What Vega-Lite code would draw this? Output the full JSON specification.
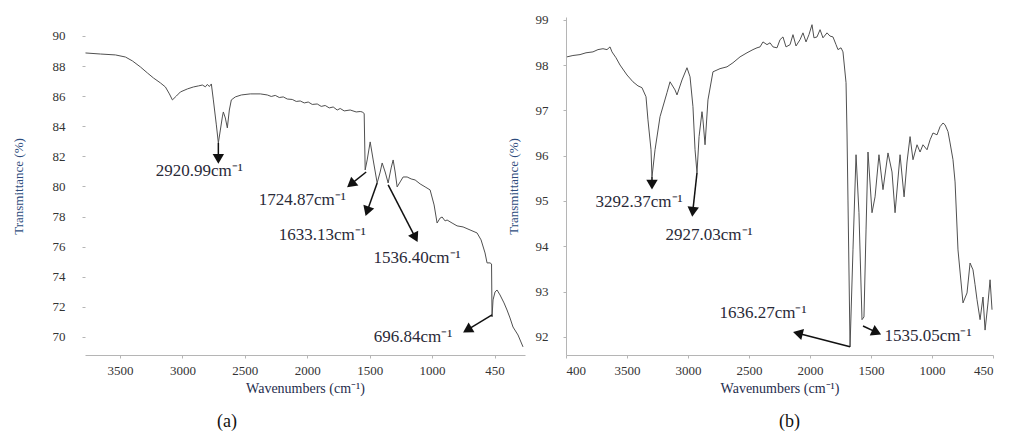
{
  "$schema": "https://vega.github.io/schema/vega-lite/v6.json",
  "background": "white",
  "padding": {"left": 12, "top": 13, "right": 5, "bottom": 5},
  "bounds": "flush",
  "spacing": 41,
  "config": {
    "view": {"stroke": null},
    "font": "Liberation Serif",
    "axis": {"grid": false, "labelFontSize": 13, "labelColor": "#333333", "titleFontWeight": "normal", "domainColor": "#b5b5b5", "tickColor": "#b5b5b5", "tickSize": 3, "labelOverlap": false}
  },
  "datasets": {
    "specA": [
      {"w": 3776, "t": 88.87}, {"w": 3656, "t": 88.80}, {"w": 3536, "t": 88.74}, {"w": 3456, "t": 88.60}, {"w": 3400, "t": 88.34},
      {"w": 3336, "t": 87.94}, {"w": 3280, "t": 87.54}, {"w": 3232, "t": 87.21}, {"w": 3176, "t": 86.88}, {"w": 3136, "t": 86.61},
      {"w": 3104, "t": 86.15}, {"w": 3080, "t": 85.75}, {"w": 3048, "t": 86.01}, {"w": 3016, "t": 86.28}, {"w": 2960, "t": 86.48},
      {"w": 2912, "t": 86.61}, {"w": 2872, "t": 86.68}, {"w": 2840, "t": 86.74}, {"w": 2816, "t": 86.62}, {"w": 2800, "t": 86.78},
      {"w": 2784, "t": 86.64}, {"w": 2768, "t": 86.81}, {"w": 2752, "t": 85.75}, {"w": 2728, "t": 84.09}, {"w": 2712, "t": 82.89},
      {"w": 2696, "t": 83.75}, {"w": 2680, "t": 84.62}, {"w": 2672, "t": 84.95}, {"w": 2656, "t": 84.55}, {"w": 2640, "t": 83.89},
      {"w": 2624, "t": 85.08}, {"w": 2608, "t": 85.75}, {"w": 2576, "t": 85.95}, {"w": 2528, "t": 86.08}, {"w": 2456, "t": 86.15},
      {"w": 2376, "t": 86.15}, {"w": 2320, "t": 86.08}, {"w": 2288, "t": 85.98}, {"w": 2256, "t": 86.05}, {"w": 2224, "t": 85.91},
      {"w": 2192, "t": 85.95}, {"w": 2160, "t": 85.81}, {"w": 2120, "t": 85.78}, {"w": 2088, "t": 85.65}, {"w": 2056, "t": 85.68},
      {"w": 2024, "t": 85.55}, {"w": 1992, "t": 85.61}, {"w": 1960, "t": 85.45}, {"w": 1920, "t": 85.48}, {"w": 1888, "t": 85.32},
      {"w": 1856, "t": 85.38}, {"w": 1824, "t": 85.22}, {"w": 1792, "t": 85.28}, {"w": 1760, "t": 85.08}, {"w": 1736, "t": 85.18},
      {"w": 1704, "t": 85.02}, {"w": 1656, "t": 85.08}, {"w": 1608, "t": 84.95}, {"w": 1576, "t": 84.98}, {"w": 1560, "t": 84.95},
      {"w": 1544, "t": 84.85}, {"w": 1536, "t": 81.10}, {"w": 1520, "t": 81.76}, {"w": 1496, "t": 82.96}, {"w": 1472, "t": 81.76},
      {"w": 1440, "t": 80.23}, {"w": 1416, "t": 80.96}, {"w": 1400, "t": 81.56}, {"w": 1376, "t": 80.96}, {"w": 1352, "t": 80.23},
      {"w": 1328, "t": 81.23}, {"w": 1312, "t": 81.76}, {"w": 1296, "t": 80.96}, {"w": 1280, "t": 79.97}, {"w": 1256, "t": 80.30},
      {"w": 1232, "t": 80.63}, {"w": 1200, "t": 80.63}, {"w": 1168, "t": 80.50}, {"w": 1136, "t": 80.43}, {"w": 1096, "t": 80.17},
      {"w": 1056, "t": 79.97}, {"w": 1016, "t": 79.77}, {"w": 984, "t": 78.77}, {"w": 960, "t": 77.57}, {"w": 936, "t": 77.90},
      {"w": 920, "t": 77.97}, {"w": 896, "t": 77.71}, {"w": 880, "t": 77.77}, {"w": 840, "t": 77.57}, {"w": 800, "t": 77.38},
      {"w": 752, "t": 77.31}, {"w": 696, "t": 77.11}, {"w": 640, "t": 76.91}, {"w": 608, "t": 76.45}, {"w": 576, "t": 75.58},
      {"w": 560, "t": 74.92}, {"w": 536, "t": 74.92}, {"w": 524, "t": 74.85}, {"w": 520, "t": 71.33}, {"w": 512, "t": 72.46},
      {"w": 496, "t": 72.99}, {"w": 480, "t": 73.12}, {"w": 456, "t": 72.79}, {"w": 424, "t": 72.26}, {"w": 400, "t": 71.79},
      {"w": 376, "t": 71.26}, {"w": 352, "t": 70.66}, {"w": 312, "t": 70.13}, {"w": 272, "t": 69.34}
    ],
    "specB": [
      {"w": 3992, "t": 98.18}, {"w": 3943, "t": 98.21}, {"w": 3885, "t": 98.23}, {"w": 3836, "t": 98.27}, {"w": 3779, "t": 98.29},
      {"w": 3738, "t": 98.34}, {"w": 3697, "t": 98.36}, {"w": 3664, "t": 98.34}, {"w": 3639, "t": 98.40}, {"w": 3623, "t": 98.29},
      {"w": 3590, "t": 98.16}, {"w": 3557, "t": 98.00}, {"w": 3500, "t": 97.78}, {"w": 3451, "t": 97.63}, {"w": 3410, "t": 97.54},
      {"w": 3377, "t": 97.50}, {"w": 3344, "t": 97.30}, {"w": 3328, "t": 96.79}, {"w": 3303, "t": 96.13}, {"w": 3295, "t": 95.53},
      {"w": 3270, "t": 96.13}, {"w": 3229, "t": 96.86}, {"w": 3172, "t": 97.39}, {"w": 3147, "t": 97.63}, {"w": 3106, "t": 97.45},
      {"w": 3090, "t": 97.34}, {"w": 3049, "t": 97.67}, {"w": 3008, "t": 97.94}, {"w": 2983, "t": 97.74}, {"w": 2959, "t": 97.08},
      {"w": 2942, "t": 96.13}, {"w": 2926, "t": 95.62}, {"w": 2909, "t": 96.42}, {"w": 2885, "t": 96.97}, {"w": 2877, "t": 96.79},
      {"w": 2860, "t": 96.24}, {"w": 2836, "t": 97.23}, {"w": 2795, "t": 97.85}, {"w": 2737, "t": 97.92}, {"w": 2680, "t": 97.96},
      {"w": 2631, "t": 98.05}, {"w": 2573, "t": 98.18}, {"w": 2516, "t": 98.27}, {"w": 2467, "t": 98.34}, {"w": 2434, "t": 98.38},
      {"w": 2409, "t": 98.40}, {"w": 2385, "t": 98.51}, {"w": 2352, "t": 98.45}, {"w": 2327, "t": 98.49}, {"w": 2303, "t": 98.40},
      {"w": 2270, "t": 98.38}, {"w": 2245, "t": 98.56}, {"w": 2221, "t": 98.62}, {"w": 2196, "t": 98.40}, {"w": 2163, "t": 98.45},
      {"w": 2139, "t": 98.67}, {"w": 2114, "t": 98.42}, {"w": 2081, "t": 98.56}, {"w": 2057, "t": 98.71}, {"w": 2032, "t": 98.51},
      {"w": 2008, "t": 98.67}, {"w": 1983, "t": 98.89}, {"w": 1967, "t": 98.60}, {"w": 1942, "t": 98.62}, {"w": 1917, "t": 98.78},
      {"w": 1893, "t": 98.60}, {"w": 1860, "t": 98.71}, {"w": 1836, "t": 98.64}, {"w": 1811, "t": 98.62}, {"w": 1786, "t": 98.45},
      {"w": 1770, "t": 98.34}, {"w": 1745, "t": 98.38}, {"w": 1729, "t": 98.29}, {"w": 1704, "t": 97.61}, {"w": 1696, "t": 96.50},
      {"w": 1688, "t": 95.02}, {"w": 1671, "t": 91.78}, {"w": 1647, "t": 93.92}, {"w": 1622, "t": 96.02}, {"w": 1598, "t": 94.74},
      {"w": 1573, "t": 92.38}, {"w": 1557, "t": 92.44}, {"w": 1540, "t": 94.36}, {"w": 1524, "t": 96.08}, {"w": 1491, "t": 94.74},
      {"w": 1466, "t": 95.09}, {"w": 1434, "t": 96.02}, {"w": 1401, "t": 95.25}, {"w": 1360, "t": 96.06}, {"w": 1327, "t": 95.64},
      {"w": 1302, "t": 94.74}, {"w": 1261, "t": 96.02}, {"w": 1228, "t": 95.09}, {"w": 1204, "t": 95.86}, {"w": 1179, "t": 96.42},
      {"w": 1155, "t": 95.91}, {"w": 1122, "t": 96.24}, {"w": 1097, "t": 96.08}, {"w": 1073, "t": 96.24}, {"w": 1040, "t": 96.13},
      {"w": 1015, "t": 96.35}, {"w": 991, "t": 96.50}, {"w": 958, "t": 96.46}, {"w": 933, "t": 96.64}, {"w": 909, "t": 96.72},
      {"w": 892, "t": 96.68}, {"w": 868, "t": 96.53}, {"w": 851, "t": 96.28}, {"w": 827, "t": 95.91}, {"w": 810, "t": 95.42},
      {"w": 786, "t": 93.92}, {"w": 745, "t": 92.75}, {"w": 712, "t": 92.97}, {"w": 687, "t": 93.63}, {"w": 663, "t": 93.48},
      {"w": 646, "t": 93.15}, {"w": 630, "t": 92.82}, {"w": 605, "t": 92.38}, {"w": 581, "t": 92.88}, {"w": 564, "t": 92.15},
      {"w": 540, "t": 92.75}, {"w": 523, "t": 93.26}, {"w": 507, "t": 92.60}
    ],
    "notesA": [
      {"label": "2920.99cm⁻¹", "w": 2712, "t": 82.89, "hw": 2712, "ht": 81.83, "lw": 2864, "lt": 81.03},
      {"label": "1724.87cm⁻¹", "w": 1528, "t": 80.96, "hw": 1650, "ht": 80.15, "lw": 2040, "lt": 79.10},
      {"label": "1633.13cm⁻¹", "w": 1440, "t": 80.23, "hw": 1520, "ht": 78.35, "lw": 1880, "lt": 76.78},
      {"label": "1536.40cm⁻¹", "w": 1352, "t": 80.10, "hw": 1134, "ht": 76.60, "lw": 1120, "lt": 75.25},
      {"label": "696.84cm⁻¹", "w": 520, "t": 71.46, "hw": 718, "ht": 70.47, "lw": 1152, "lt": 70.0}
    ],
    "notesB": [
      {"label": "3292.37cm⁻¹", "w": 3295, "t": 95.53, "hw": 3295, "ht": 95.36, "lw": 3401, "lt": 94.98},
      {"label": "2927.03cm⁻¹", "w": 2926, "t": 95.62, "hw": 2961, "ht": 94.76, "lw": 2827, "lt": 94.25},
      {"label": "1636.27cm⁻¹", "w": 1671, "t": 91.78, "hw": 2099, "ht": 92.08, "lw": 2385, "lt": 92.53},
      {"label": "1535.05cm⁻¹", "w": 1565, "t": 92.24, "hw": 1453, "ht": 92.10, "lw": 1032, "lt": 92.02}
    ]
  },
  "hconcat": [
    {
      "width": 440,
      "height": 338,
      "title": {"text": "(a)", "orient": "bottom", "anchor": "middle", "dx": -78, "offset": 18, "fontSize": 18, "fontWeight": "normal", "color": "#111111"},
      "layer": [
        {
          "data": {"name": "specA"},
          "mark": {"type": "line", "color": "#505050", "strokeWidth": 1},
          "encoding": {
            "x": {"field": "w", "type": "quantitative", "scale": {"domain": [3780, 256], "nice": false, "zero": false},
              "axis": {"title": "Wavenumbers (cm⁻¹)", "titleFontSize": 14, "titleColor": "#1f2d4d", "titlePadding": 4, "labelPadding": 6, "tickCount": 20, "values": [3500, 3000, 2500, 2000, 1500, 1000, 500], "format": "d", "labelExpr": "datum.value == 500 ? '450' : datum.label"}},
            "y": {"field": "t", "type": "quantitative", "scale": {"domain": [68.8, 91.26], "nice": false, "zero": false},
              "axis": {"title": "Transmittance (%)", "titleFontSize": 13, "titleColor": "#2d4b7c", "titlePadding": 27, "labelPadding": 17, "domain": false, "labelOverlap": false, "tickCount": 20, "format": "d", "values": [70, 72, 74, 76, 78, 80, 82, 84, 86, 88, 90]}}
          }
        },
        {
          "mark": {"type": "rule", "color": "#b5b5b5", "strokeWidth": 1},
          "encoding": {
            "x": {"datum": 3780, "type": "quantitative"},
            "y": {"datum": 68.8, "type": "quantitative"},
            "y2": {"datum": 89.4}
          }
        },
        {
          "data": {"name": "notesA"},
          "mark": {"type": "rule", "color": "#111111", "strokeWidth": 1.5},
          "encoding": {"x": {"field": "w", "type": "quantitative"}, "y": {"field": "t", "type": "quantitative"}, "x2": {"field": "hw"}, "y2": {"field": "ht"}}
        },
        {
          "data": {"name": "notesA"},
          "transform": [{"filter": "datum.label == '2920.99cm⁻¹'"}],
          "mark": {"type": "point", "shape": "triangle-up", "filled": true, "color": "#111111", "opacity": 1, "size": 130, "angle": 180},
          "encoding": {"x": {"field": "hw", "type": "quantitative"}, "y": {"field": "ht", "type": "quantitative"}}
        },
        {
          "data": {"name": "notesA"},
          "transform": [{"filter": "datum.label == '1724.87cm⁻¹'"}],
          "mark": {"type": "point", "shape": "triangle-up", "filled": true, "color": "#111111", "opacity": 1, "size": 130, "angle": 231},
          "encoding": {"x": {"field": "hw", "type": "quantitative"}, "y": {"field": "ht", "type": "quantitative"}}
        },
        {
          "data": {"name": "notesA"},
          "transform": [{"filter": "datum.label == '1633.13cm⁻¹'"}],
          "mark": {"type": "point", "shape": "triangle-up", "filled": true, "color": "#111111", "opacity": 1, "size": 130, "angle": 199},
          "encoding": {"x": {"field": "hw", "type": "quantitative"}, "y": {"field": "ht", "type": "quantitative"}}
        },
        {
          "data": {"name": "notesA"},
          "transform": [{"filter": "datum.label == '1536.40cm⁻¹'"}],
          "mark": {"type": "point", "shape": "triangle-up", "filled": true, "color": "#111111", "opacity": 1, "size": 130, "angle": 153},
          "encoding": {"x": {"field": "hw", "type": "quantitative"}, "y": {"field": "ht", "type": "quantitative"}}
        },
        {
          "data": {"name": "notesA"},
          "transform": [{"filter": "datum.label == '696.84cm⁻¹'"}],
          "mark": {"type": "point", "shape": "triangle-up", "filled": true, "color": "#111111", "opacity": 1, "size": 130, "angle": 239},
          "encoding": {"x": {"field": "hw", "type": "quantitative"}, "y": {"field": "ht", "type": "quantitative"}}
        },
        {
          "data": {"name": "notesA"},
          "mark": {"type": "text", "font": "Liberation Serif", "fontSize": 17, "color": "#2a2a38", "align": "center", "baseline": "middle"},
          "encoding": {"x": {"field": "lw", "type": "quantitative"}, "y": {"field": "lt", "type": "quantitative"}, "text": {"field": "label"}}
        }
      ]
    },
    {
      "width": 427,
      "height": 338,
      "title": {"text": "(b)", "orient": "bottom", "anchor": "middle", "dx": 10, "offset": 18, "fontSize": 18, "fontWeight": "normal", "color": "#111111"},
      "layer": [
        {
          "data": {"name": "specB"},
          "mark": {"type": "line", "color": "#505050", "strokeWidth": 1},
          "encoding": {
            "x": {"field": "w", "type": "quantitative", "scale": {"domain": [4000, 499], "nice": false, "zero": false},
              "axis": {"title": "Wavenumbers (cm⁻¹)", "titleFontSize": 14, "titleColor": "#1f2d4d", "titlePadding": 4, "labelPadding": 6, "tickCount": 20, "values": [4000, 3500, 3000, 2500, 2000, 1500, 1000, 500], "format": "d", "labelExpr": "datum.value == 500 ? '450' : (datum.value == 4000 ? '400' : datum.label)"}},
            "y": {"field": "t", "type": "quantitative", "scale": {"domain": [91.6, 99.06], "nice": false, "zero": false},
              "axis": {"title": "Transmittance (%)", "titleFontSize": 13, "titleColor": "#2d4b7c", "titlePadding": 15, "labelPadding": 15, "labelOverlap": false, "tickCount": 20, "format": "d", "values": [92, 93, 94, 95, 96, 97, 98, 99]}}
          }
        },
        {
          "data": {"name": "notesB"},
          "mark": {"type": "rule", "color": "#111111", "strokeWidth": 1.5},
          "encoding": {"x": {"field": "w", "type": "quantitative"}, "y": {"field": "t", "type": "quantitative"}, "x2": {"field": "hw"}, "y2": {"field": "ht"}}
        },
        {
          "data": {"name": "notesB"},
          "transform": [{"filter": "datum.label == '3292.37cm⁻¹'"}],
          "mark": {"type": "point", "shape": "triangle-up", "filled": true, "color": "#111111", "opacity": 1, "size": 130, "angle": 180},
          "encoding": {"x": {"field": "hw", "type": "quantitative"}, "y": {"field": "ht", "type": "quantitative"}}
        },
        {
          "data": {"name": "notesB"},
          "transform": [{"filter": "datum.label == '2927.03cm⁻¹'"}],
          "mark": {"type": "point", "shape": "triangle-up", "filled": true, "color": "#111111", "opacity": 1, "size": 130, "angle": 186},
          "encoding": {"x": {"field": "hw", "type": "quantitative"}, "y": {"field": "ht", "type": "quantitative"}}
        },
        {
          "data": {"name": "notesB"},
          "transform": [{"filter": "datum.label == '1636.27cm⁻¹'"}],
          "mark": {"type": "point", "shape": "triangle-up", "filled": true, "color": "#111111", "opacity": 1, "size": 130, "angle": 284},
          "encoding": {"x": {"field": "hw", "type": "quantitative"}, "y": {"field": "ht", "type": "quantitative"}}
        },
        {
          "data": {"name": "notesB"},
          "transform": [{"filter": "datum.label == '1535.05cm⁻¹'"}],
          "mark": {"type": "point", "shape": "triangle-up", "filled": true, "color": "#111111", "opacity": 1, "size": 130, "angle": 115},
          "encoding": {"x": {"field": "hw", "type": "quantitative"}, "y": {"field": "ht", "type": "quantitative"}}
        },
        {
          "data": {"name": "notesB"},
          "mark": {"type": "text", "font": "Liberation Serif", "fontSize": 17, "color": "#2a2a38", "align": "center", "baseline": "middle"},
          "encoding": {"x": {"field": "lw", "type": "quantitative"}, "y": {"field": "lt", "type": "quantitative"}, "text": {"field": "label"}}
        }
      ]
    }
  ]
}
